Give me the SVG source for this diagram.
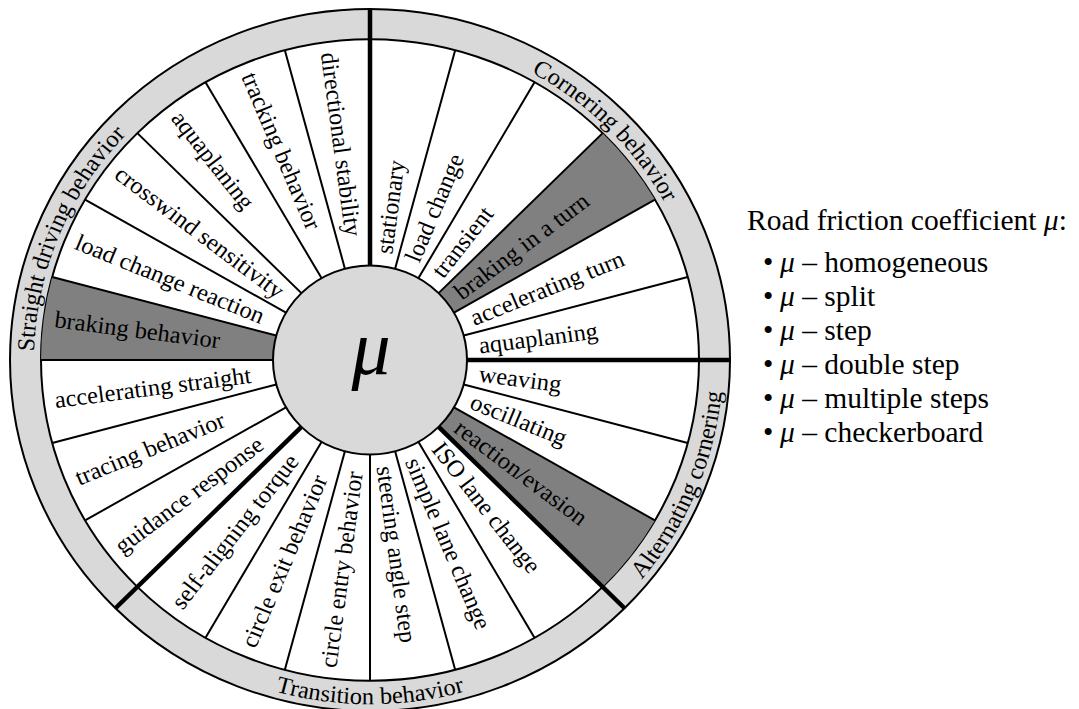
<svg xmlns="http://www.w3.org/2000/svg" width="1079" height="709" viewBox="0 0 1079 709">
<style>
  text { font-family: "Liberation Serif", "Times New Roman", serif; fill: #000; }
  .lbl { font-size: 24.5px; }
  .ring-lbl { font-size: 24.5px; }
  .edge { stroke: #000; stroke-width: 2; }
  .thin { stroke: #000; stroke-width: 2; }
  .thick { stroke: #000; stroke-width: 4.5; }
  .legend { font-size: 29.5px; }
  .mu { font-style: italic; }
</style>
<defs>
  <!-- one 15-degree sector of the wheel, pointing up -->
  <path id="wedge" d="M0,0 L0,-329 A329,329 0 0 1 85.15,-317.79 Z"/>
  <!-- baselines for the ring titles -->
  <path id="arc-corner" d="M0,-336 A336,336 0 0 1 336,0"/>
  <path id="arc-straight" d="M-237.59,237.59 A336,336 0 0 1 0,-336"/>
  <path id="arc-alt" d="M249.61,249.61 A353,353 0 0 0 353,0"/>
  <path id="arc-trans" d="M-249.61,249.61 A353,353 0 0 0 249.61,249.61"/>
</defs>
<rect width="1079" height="709" fill="#fff"/>

<g id="wheel" transform="translate(370,360) scale(1,0.975)">
  <g id="ring">
    <circle r="360" fill="#d9d9d9" class="edge"/>
    <circle r="329" fill="#fff" class="edge"/>
  </g>
  <g id="highlights" fill="#808080">
    <use href="#wedge" transform="rotate(45)"/>
    <use href="#wedge" transform="rotate(120)"/>
    <use href="#wedge" transform="rotate(270)"/>
  </g>
  <g id="connectors">
    <g class="thin">
      <line y1="-97" y2="-329" transform="rotate(15)"/>
      <line y1="-97" y2="-329" transform="rotate(30)"/>
      <line y1="-97" y2="-329" transform="rotate(45)"/>
      <line y1="-97" y2="-329" transform="rotate(60)"/>
      <line y1="-97" y2="-329" transform="rotate(75)"/>
      <line y1="-97" y2="-329" transform="rotate(105)"/>
      <line y1="-97" y2="-329" transform="rotate(120)"/>
      <line y1="-97" y2="-329" transform="rotate(150)"/>
      <line y1="-97" y2="-329" transform="rotate(165)"/>
      <line y1="-97" y2="-329" transform="rotate(180)"/>
      <line y1="-97" y2="-329" transform="rotate(195)"/>
      <line y1="-97" y2="-329" transform="rotate(210)"/>
      <line y1="-97" y2="-329" transform="rotate(240)"/>
      <line y1="-97" y2="-329" transform="rotate(255)"/>
      <line y1="-97" y2="-329" transform="rotate(270)"/>
      <line y1="-97" y2="-329" transform="rotate(285)"/>
      <line y1="-97" y2="-329" transform="rotate(300)"/>
      <line y1="-97" y2="-329" transform="rotate(315)"/>
      <line y1="-97" y2="-329" transform="rotate(330)"/>
      <line y1="-97" y2="-329" transform="rotate(345)"/>
    </g>
    <g class="thick">
      <line y1="-97" y2="-360"/>
      <line y1="-97" y2="-360" transform="rotate(90)"/>
      <line y1="-97" y2="-360" transform="rotate(135)"/>
      <line y1="-97" y2="-360" transform="rotate(225)"/>
    </g>
  </g>
  <g id="hub">
    <circle r="97" fill="#d9d9d9" class="edge"/>
  </g>

  <!-- ring titles -->
  <g id="group-cornering"><text class="ring-lbl"><textPath href="#arc-corner" startOffset="50%" text-anchor="middle">Cornering behavior</textPath></text></g>
  <g id="group-alternating"><text class="ring-lbl"><textPath href="#arc-alt" startOffset="50%" text-anchor="middle">Alternating cornering</textPath></text></g>
  <g id="group-transition"><text class="ring-lbl"><textPath href="#arc-trans" startOffset="50%" text-anchor="middle">Transition behavior</textPath></text></g>
  <g id="group-straight"><text class="ring-lbl"><textPath href="#arc-straight" startOffset="50%" text-anchor="middle">Straight driving behavior</textPath></text></g>

  <!-- sector labels, right half: read outward from the hub -->
  <g id="s-stationary"><text class="lbl" transform="rotate(-82.5)" x="110" dy="0.32em">stationary</text></g>
  <g id="s-load-change"><text class="lbl" transform="rotate(-67.5)" x="110" dy="0.32em">load change</text></g>
  <g id="s-transient"><text class="lbl" transform="rotate(-52.5)" x="110" dy="0.32em">transient</text></g>
  <g id="s-braking-turn"><text class="lbl" transform="rotate(-37.5)" x="110" dy="0.32em">braking in a turn</text></g>
  <g id="s-accel-turn"><text class="lbl" transform="rotate(-22.5)" x="110" dy="0.32em">accelerating turn</text></g>
  <g id="s-aquaplaning-c"><text class="lbl" transform="rotate(-7.5)" x="110" dy="0.32em">aquaplaning</text></g>
  <g id="s-weaving"><text class="lbl" transform="rotate(7.5)" x="110" dy="0.32em">weaving</text></g>
  <g id="s-oscillating"><text class="lbl" transform="rotate(22.5)" x="110" dy="0.32em">oscillating</text></g>
  <g id="s-reaction"><text class="lbl" transform="rotate(37.5)" x="110" dy="0.32em">reaction/evasion</text></g>
  <g id="s-iso"><text class="lbl" transform="rotate(52.5)" x="110" dy="0.32em">ISO lane change</text></g>
  <g id="s-simple-lane"><text class="lbl" transform="rotate(67.5)" x="110" dy="0.32em">simple lane change</text></g>
  <g id="s-steering-step"><text class="lbl" transform="rotate(82.5)" x="110" dy="0.32em">steering angle step</text></g>

  <!-- sector labels, left half: read inward from the ring -->
  <g id="s-circle-entry"><text class="lbl" transform="rotate(-82.5)" x="-318" dy="0.32em">circle entry behavior</text></g>
  <g id="s-circle-exit"><text class="lbl" transform="rotate(-67.5)" x="-318" dy="0.32em">circle exit behavior</text></g>
  <g id="s-self-aligning"><text class="lbl" transform="rotate(-52.5)" x="-318" dy="0.32em">self-aligning torque</text></g>
  <g id="s-guidance"><text class="lbl" transform="rotate(-37.5)" x="-318" dy="0.32em">guidance response</text></g>
  <g id="s-tracing"><text class="lbl" transform="rotate(-22.5)" x="-318" dy="0.32em">tracing behavior</text></g>
  <g id="s-accel-straight"><text class="lbl" transform="rotate(-7.5)" x="-318" dy="0.32em">accelerating straight</text></g>
  <g id="s-braking"><text class="lbl" transform="rotate(7.5)" x="-318" dy="0.32em">braking behavior</text></g>
  <g id="s-load-reaction"><text class="lbl" transform="rotate(22.5)" x="-318" dy="0.32em">load change reaction</text></g>
  <g id="s-crosswind"><text class="lbl" transform="rotate(37.5)" x="-318" dy="0.32em">crosswind sensitivity</text></g>
  <g id="s-aquaplaning-s"><text class="lbl" transform="rotate(52.5)" x="-318" dy="0.32em">aquaplaning</text></g>
  <g id="s-tracking"><text class="lbl" transform="rotate(67.5)" x="-318" dy="0.32em">tracking behavior</text></g>
  <g id="s-directional"><text class="lbl" transform="rotate(82.5)" x="-318" dy="0.32em">directional stability</text></g>
</g>

<g id="hub-symbol">
  <text x="371" y="374" text-anchor="middle" font-size="78" class="mu">μ</text>
</g>

<g id="legend" class="legend">
  <text x="747" y="230">Road friction coefficient <tspan class="mu">μ</tspan>:</text>
  <text x="763" y="272">•</text><text x="780" y="272"><tspan class="mu">μ</tspan> – homogeneous</text>
  <text x="763" y="306">•</text><text x="780" y="306"><tspan class="mu">μ</tspan> – split</text>
  <text x="763" y="340">•</text><text x="780" y="340"><tspan class="mu">μ</tspan> – step</text>
  <text x="763" y="374">•</text><text x="780" y="374"><tspan class="mu">μ</tspan> – double step</text>
  <text x="763" y="408">•</text><text x="780" y="408"><tspan class="mu">μ</tspan> – multiple steps</text>
  <text x="763" y="442">•</text><text x="780" y="442"><tspan class="mu">μ</tspan> – checkerboard</text>
</g>
</svg>
